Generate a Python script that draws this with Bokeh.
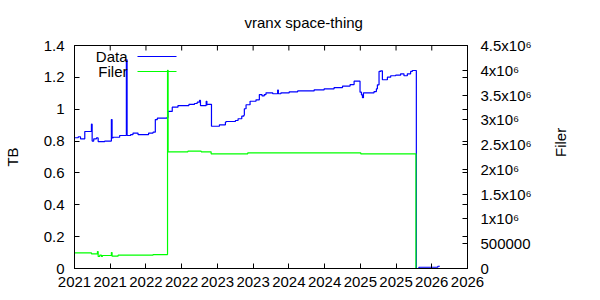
import math
from bokeh.plotting import figure
from bokeh.models import Range1d, LinearAxis, FixedTicker, Label, Arrow
from bokeh.embed import file_html
from bokeh.resources import INLINE

# ---- data (decimal year, value) ----
data_year = [2021.004, 2021.052, 2021.084, 2021.144, 2021.237, 2021.247, 2021.269, 2021.307,
             2021.331, 2021.423, 2021.516, 2021.526, 2021.540, 2021.632, 2021.726, 2021.736,
             2021.786, 2021.819, 2021.889, 2022.037, 2022.099, 2022.131, 2022.159, 2022.294,
             2022.308, 2022.368, 2022.448, 2022.601, 2022.679, 2022.717, 2022.749, 2022.763,
             2022.843, 2022.853, 2022.866, 2022.917, 2023.028, 2023.112, 2023.122, 2023.252,
             2023.289, 2023.341, 2023.369, 2023.377, 2023.401, 2023.457, 2023.540, 2023.587,
             2023.624, 2023.656, 2023.680, 2023.774, 2023.843, 2023.853, 2023.889, 2024.005,
             2024.123, 2024.354, 2024.494, 2024.633, 2024.751, 2024.857, 2024.913, 2024.996,
             2025.016, 2025.030, 2025.044, 2025.192, 2025.225, 2025.239, 2025.262, 2025.285,
             2025.309, 2025.379, 2025.425, 2025.495, 2025.564, 2025.611, 2025.658, 2025.704,
             2025.728, 2025.784, 2025.820, 2026.085, 2026.113]
data_tb = [0.821, 0.827, 0.814, 0.860, 0.906, 0.800, 0.814, 0.820,
           0.797, 0.800, 0.935, 0.820, 0.824, 0.835, 1.310, 0.835,
           0.841, 0.850, 0.841, 0.850, 0.856, 0.935, 0.944, 0.948,
           0.986, 1.013, 1.023, 1.030, 1.036, 1.044, 1.055, 1.023,
           1.050, 1.028, 1.031, 0.893, 0.902, 0.919, 0.923, 0.929,
           0.940, 0.956, 0.962, 1.003, 1.028, 1.050, 1.059, 1.092,
           1.084, 1.092, 1.103, 1.097, 1.120, 1.097, 1.103, 1.109,
           1.115, 1.122, 1.128, 1.136, 1.145, 1.155, 1.176, 1.107,
           1.090, 1.072, 1.103, 1.111, 1.128, 1.153, 1.237, 1.241,
           1.185, 1.201, 1.210, 1.214, 1.222, 1.210, 1.222, 1.237,
           1.243, 0.000, 0.008, 0.014, 0.014]

filer_year = [2021.004, 2021.237, 2021.321, 2021.331, 2021.353, 2021.377, 2021.391, 2021.516,
              2021.526, 2021.610, 2022.099, 2022.302, 2022.310, 2022.587, 2022.773, 2022.912,
              2023.425, 2025.006, 2025.778, 2026.113]
filer_count = [317000, 296000, 343000, 242000, 269000, 242000, 262000, 323000,
               249000, 269000, 282000, 4000000, 2355000, 2367000, 2355000, 2314000,
               2335000, 2314000, 0, 0]

x_ticks = [2021.0, 2021.5, 2022.0, 2022.5, 2023.0, 2023.5, 2024.0, 2024.5, 2025.0, 2025.5, 2026.0, 2026.5]
x_tick_labels = ["2021", "2021", "2022", "2022", "2023", "2023", "2024", "2024", "2025", "2025", "2026", "2026"]
tb_ticks = [0.0, 0.2, 0.4, 0.6, 0.8, 1.0, 1.2, 1.4]
tb_tick_labels = ["0", "0.2", "0.4", "0.6", "0.8", "1", "1.2", "1.4"]
filer_ticks = [0, 500000, 1000000, 1500000, 2000000, 2500000, 3000000, 3500000, 4000000, 4500000]
filer_tick_labels = ["0", "500000", "1x10\u2076", "1.5x10\u2076", "2x10\u2076", "2.5x10\u2076",
                     "3x10\u2076", "3.5x10\u2076", "4x10\u2076", "4.5x10\u2076"]
title_text = "vranx space-thing"

FONT = "Liberation Sans"
FS = "15px"
Y_MAX = 1.4
FILER_MAX = 4500000

p = figure(width=600, height=300, output_backend="svg", toolbar_location=None,
           x_range=Range1d(x_ticks[0], x_ticks[-1]), y_range=Range1d(0, Y_MAX),
           min_border_left=73, min_border_right=133, min_border_top=45, min_border_bottom=32,
           title=title_text)
p.extra_y_ranges = {"filer": Range1d(0, FILER_MAX)}
p.grid.visible = False
p.outline_line_color = "black"
p.outline_line_width = 1
p.background_fill_color = "white"
p.border_fill_color = "white"

p.title.text_font = FONT
p.title.text_font_size = FS
p.title.text_font_style = "normal"
p.title.text_color = "black"
p.title.align = "left"
p.title.offset = 170
p.title.vertical_align = "top"
p.title.standoff = 25

def style(ax):
    ax.major_label_text_font = FONT
    ax.major_label_text_font_size = FS
    ax.major_label_text_color = "black"
    ax.axis_label_text_font = FONT
    ax.axis_label_text_font_size = FS
    ax.axis_label_text_font_style = "normal"
    ax.axis_label_text_color = "black"
    ax.axis_line_color = "black"
    ax.major_tick_line_color = "black"
    ax.minor_tick_line_color = "black"
    ax.major_tick_in = 5
    ax.major_tick_out = 0
    ax.minor_tick_in = 0
    ax.minor_tick_out = 0

xa = p.xaxis[0]
style(xa)
xa.ticker = FixedTicker(ticks=x_ticks)
xa.major_label_overrides = dict(zip(x_ticks, x_tick_labels))
xa.major_label_standoff = 8

ya = p.yaxis[0]
style(ya)
ya.ticker = FixedTicker(ticks=tb_ticks)
ya.major_label_overrides = dict(zip(tb_ticks, tb_tick_labels))
ya.major_label_standoff = 10
ya.axis_label = "TB"
ya.axis_label_standoff = 20

# right axis: Filer, with the TB ticks mirrored as equal-length minor ticks
mirror = [t * FILER_MAX / Y_MAX for t in tb_ticks]
ra = LinearAxis(y_range_name="filer", axis_label="Filer")
style(ra)
ra.ticker = FixedTicker(ticks=filer_ticks, minor_ticks=mirror)
ra.major_label_overrides = dict(zip(filer_ticks, filer_tick_labels))
ra.minor_tick_in = 5
ra.major_label_standoff = 13
ra.axis_label_standoff = 26
ra.axis_label_orientation = math.pi / 2
p.add_layout(ra, "right")

# mirrored x ticks along the top border (5 px long, pointing inward)
tick_len = 5 / 223 * Y_MAX
p.segment(x0=x_ticks, y0=[Y_MAX] * len(x_ticks), x1=x_ticks,
          y1=[Y_MAX - tick_len] * len(x_ticks), line_color="black", line_width=1)

p.step(data_year, data_tb, mode="after", line_color="#0000ff", line_width=1.2)
p.step(filer_year, filer_count, mode="after", line_color="#00ff00", line_width=1.2,
       y_range_name="filer")

# gnuplot-style key: text right-aligned, sample line to its right
for txt, col, sy in [("Data", "#0000ff", 212), ("Filer", "#00ff00", 197)]:
    p.add_layout(Label(x=53, y=sy, x_units="screen", y_units="screen", text=txt,
                       text_font=FONT, text_font_size=FS, text_align="right",
                       text_baseline="middle", text_color="black"))
    p.add_layout(Arrow(end=None, x_start=63, y_start=sy, x_end=102, y_end=sy,
                       start_units="screen", end_units="screen",
                       line_color=col, line_width=1.2))

open("out.html", "w").write(file_html(p, INLINE))
